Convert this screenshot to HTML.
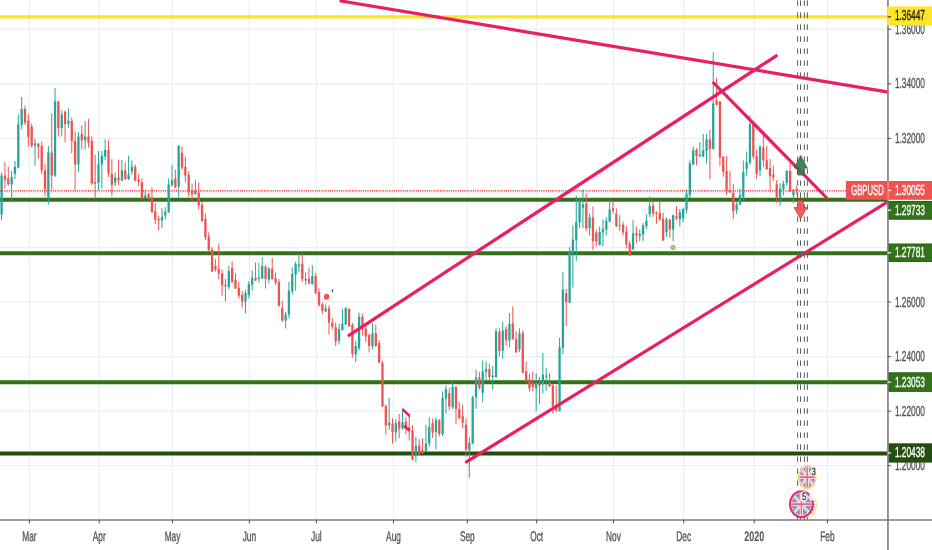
<!DOCTYPE html><html><head><meta charset="utf-8"><style>html,body{margin:0;padding:0;background:#fff;overflow:hidden}svg{display:block;will-change:transform}text{font-family:"Liberation Sans",sans-serif;text-rendering:geometricPrecision}</style></head><body>
<svg width="932" height="550" viewBox="0 0 932 550">
<rect width="932" height="550" fill="#fff"/>
<defs><clipPath id="f1"><ellipse cx="807.3" cy="477.2" rx="7.200000000000001" ry="10.2"/></clipPath><clipPath id="f2"><ellipse cx="807.5" cy="505" rx="7.2" ry="10.2"/></clipPath><clipPath id="f3"><ellipse cx="801.4" cy="504.2" rx="9.700000000000001" ry="11.1"/></clipPath></defs>
<line x1="29.4" y1="0" x2="29.4" y2="520.0" stroke="#e8eff5" stroke-width="1.2"/>
<line x1="99.2" y1="0" x2="99.2" y2="520.0" stroke="#e8eff5" stroke-width="1.2"/>
<line x1="172.5" y1="0" x2="172.5" y2="520.0" stroke="#e8eff5" stroke-width="1.2"/>
<line x1="249.4" y1="0" x2="249.4" y2="520.0" stroke="#e8eff5" stroke-width="1.2"/>
<line x1="316.4" y1="0" x2="316.4" y2="520.0" stroke="#e8eff5" stroke-width="1.2"/>
<line x1="393.5" y1="0" x2="393.5" y2="520.0" stroke="#e8eff5" stroke-width="1.2"/>
<line x1="467.3" y1="0" x2="467.3" y2="520.0" stroke="#e8eff5" stroke-width="1.2"/>
<line x1="536.7" y1="0" x2="536.7" y2="520.0" stroke="#e8eff5" stroke-width="1.2"/>
<line x1="613.5" y1="0" x2="613.5" y2="520.0" stroke="#e8eff5" stroke-width="1.2"/>
<line x1="683.7" y1="0" x2="683.7" y2="520.0" stroke="#e8eff5" stroke-width="1.2"/>
<line x1="754.2" y1="0" x2="754.2" y2="520.0" stroke="#e8eff5" stroke-width="1.2"/>
<line x1="827.4" y1="0" x2="827.4" y2="520.0" stroke="#e8eff5" stroke-width="1.2"/>
<line x1="0" y1="29.30" x2="888.0" y2="29.30" stroke="#e8eff5" stroke-width="1.2"/>
<line x1="0" y1="83.85" x2="888.0" y2="83.85" stroke="#e8eff5" stroke-width="1.2"/>
<line x1="0" y1="138.40" x2="888.0" y2="138.40" stroke="#e8eff5" stroke-width="1.2"/>
<line x1="0" y1="192.95" x2="888.0" y2="192.95" stroke="#e8eff5" stroke-width="1.2"/>
<line x1="0" y1="247.50" x2="888.0" y2="247.50" stroke="#e8eff5" stroke-width="1.2"/>
<line x1="0" y1="302.05" x2="888.0" y2="302.05" stroke="#e8eff5" stroke-width="1.2"/>
<line x1="0" y1="356.60" x2="888.0" y2="356.60" stroke="#e8eff5" stroke-width="1.2"/>
<line x1="0" y1="411.15" x2="888.0" y2="411.15" stroke="#e8eff5" stroke-width="1.2"/>
<line x1="0" y1="465.70" x2="888.0" y2="465.70" stroke="#e8eff5" stroke-width="1.2"/>
<line x1="0" y1="16.8" x2="888.0" y2="16.8" stroke="#fde529" stroke-width="3.2"/>
<line x1="0" y1="199.7" x2="888.0" y2="199.7" stroke="#32721a" stroke-width="4"/>
<line x1="0" y1="253.3" x2="888.0" y2="253.3" stroke="#32721a" stroke-width="4"/>
<line x1="0" y1="382.2" x2="888.0" y2="382.2" stroke="#32721a" stroke-width="4"/>
<line x1="0" y1="453.5" x2="888.0" y2="453.5" stroke="#244d10" stroke-width="4"/>
<rect x="1.10" y="172.5" width="1" height="48.00" fill="#26a69a"/>
<rect x="0.45" y="175.5" width="2.3" height="39.20" fill="#26a69a"/>
<rect x="4.44" y="162.2" width="1" height="26.30" fill="#ef5350"/>
<rect x="3.79" y="175.5" width="2.3" height="4.30" fill="#ef5350"/>
<rect x="7.78" y="166.5" width="1" height="19.10" fill="#ef5350"/>
<rect x="7.13" y="178.4" width="2.3" height="5.80" fill="#ef5350"/>
<rect x="11.12" y="171.0" width="1" height="31.40" fill="#26a69a"/>
<rect x="10.47" y="176.9" width="2.3" height="7.30" fill="#26a69a"/>
<rect x="14.46" y="161.0" width="1" height="18.10" fill="#26a69a"/>
<rect x="13.81" y="166.7" width="2.3" height="7.30" fill="#26a69a"/>
<rect x="17.81" y="114.4" width="1" height="54.10" fill="#26a69a"/>
<rect x="17.16" y="124.2" width="2.3" height="43.30" fill="#26a69a"/>
<rect x="21.15" y="97.0" width="1" height="32.30" fill="#26a69a"/>
<rect x="20.50" y="108.9" width="2.3" height="16.00" fill="#26a69a"/>
<rect x="24.49" y="105.7" width="1" height="19.20" fill="#ef5350"/>
<rect x="23.84" y="108.9" width="2.3" height="13.80" fill="#ef5350"/>
<rect x="27.83" y="114.4" width="1" height="32.30" fill="#ef5350"/>
<rect x="27.18" y="120.8" width="2.3" height="16.00" fill="#ef5350"/>
<rect x="31.17" y="123.5" width="1" height="24.00" fill="#ef5350"/>
<rect x="30.52" y="126.4" width="2.3" height="19.60" fill="#ef5350"/>
<rect x="34.51" y="138.7" width="1" height="27.30" fill="#26a69a"/>
<rect x="33.86" y="143.5" width="2.3" height="2.20" fill="#26a69a"/>
<rect x="37.85" y="143.1" width="1" height="15.60" fill="#ef5350"/>
<rect x="37.20" y="143.5" width="2.3" height="3.20" fill="#ef5350"/>
<rect x="41.19" y="141.6" width="1" height="32.40" fill="#ef5350"/>
<rect x="40.54" y="146.0" width="2.3" height="24.40" fill="#ef5350"/>
<rect x="44.53" y="163.5" width="1" height="33.00" fill="#ef5350"/>
<rect x="43.88" y="170.4" width="2.3" height="18.90" fill="#ef5350"/>
<rect x="47.87" y="146.0" width="1" height="58.50" fill="#26a69a"/>
<rect x="47.22" y="152.5" width="2.3" height="46.20" fill="#26a69a"/>
<rect x="51.22" y="113.3" width="1" height="77.40" fill="#ef5350"/>
<rect x="50.57" y="152.5" width="2.3" height="23.00" fill="#ef5350"/>
<rect x="54.56" y="88.0" width="1" height="89.00" fill="#26a69a"/>
<rect x="53.91" y="101.3" width="2.3" height="74.20" fill="#26a69a"/>
<rect x="57.90" y="100.9" width="1" height="35.60" fill="#ef5350"/>
<rect x="57.25" y="101.3" width="2.3" height="26.80" fill="#ef5350"/>
<rect x="61.24" y="110.4" width="1" height="26.10" fill="#26a69a"/>
<rect x="60.59" y="114.4" width="2.3" height="13.70" fill="#26a69a"/>
<rect x="64.58" y="110.4" width="1" height="32.00" fill="#ef5350"/>
<rect x="63.93" y="111.8" width="2.3" height="12.40" fill="#ef5350"/>
<rect x="67.92" y="108.2" width="1" height="19.90" fill="#26a69a"/>
<rect x="67.27" y="120.8" width="2.3" height="2.90" fill="#26a69a"/>
<rect x="71.26" y="117.6" width="1" height="35.70" fill="#ef5350"/>
<rect x="70.61" y="120.8" width="2.3" height="20.10" fill="#ef5350"/>
<rect x="74.60" y="131.5" width="1" height="60.00" fill="#ef5350"/>
<rect x="73.95" y="140.9" width="2.3" height="23.60" fill="#ef5350"/>
<rect x="77.94" y="132.2" width="1" height="39.60" fill="#26a69a"/>
<rect x="77.29" y="136.5" width="2.3" height="28.00" fill="#26a69a"/>
<rect x="81.28" y="125.2" width="1" height="24.40" fill="#ef5350"/>
<rect x="80.63" y="133.9" width="2.3" height="6.30" fill="#ef5350"/>
<rect x="84.62" y="121.0" width="1" height="28.60" fill="#26a69a"/>
<rect x="83.97" y="136.5" width="2.3" height="3.70" fill="#26a69a"/>
<rect x="87.97" y="119.1" width="1" height="28.40" fill="#ef5350"/>
<rect x="87.32" y="136.5" width="2.3" height="5.90" fill="#ef5350"/>
<rect x="91.31" y="136.5" width="1" height="48.50" fill="#ef5350"/>
<rect x="90.66" y="140.9" width="2.3" height="42.60" fill="#ef5350"/>
<rect x="94.65" y="154.7" width="1" height="44.00" fill="#ef5350"/>
<rect x="94.00" y="182.0" width="2.3" height="1.70" fill="#ef5350"/>
<rect x="97.99" y="151.1" width="1" height="38.90" fill="#26a69a"/>
<rect x="97.34" y="164.5" width="2.3" height="18.20" fill="#26a69a"/>
<rect x="101.33" y="151.1" width="1" height="37.40" fill="#26a69a"/>
<rect x="100.68" y="155.8" width="2.3" height="8.70" fill="#26a69a"/>
<rect x="104.67" y="139.5" width="1" height="20.70" fill="#26a69a"/>
<rect x="104.02" y="150.0" width="2.3" height="6.50" fill="#26a69a"/>
<rect x="108.01" y="140.2" width="1" height="36.80" fill="#ef5350"/>
<rect x="107.36" y="149.9" width="2.3" height="23.40" fill="#ef5350"/>
<rect x="111.35" y="159.3" width="1" height="37.20" fill="#ef5350"/>
<rect x="110.70" y="174.0" width="2.3" height="10.90" fill="#ef5350"/>
<rect x="114.69" y="172.5" width="1" height="13.90" fill="#26a69a"/>
<rect x="114.04" y="177.6" width="2.3" height="5.10" fill="#26a69a"/>
<rect x="118.03" y="159.5" width="1" height="25.40" fill="#ef5350"/>
<rect x="117.38" y="177.6" width="2.3" height="2.90" fill="#ef5350"/>
<rect x="121.38" y="160.0" width="1" height="21.30" fill="#26a69a"/>
<rect x="120.73" y="170.4" width="2.3" height="10.10" fill="#26a69a"/>
<rect x="124.72" y="162.2" width="1" height="17.60" fill="#ef5350"/>
<rect x="124.07" y="170.4" width="2.3" height="8.70" fill="#ef5350"/>
<rect x="128.06" y="155.7" width="1" height="24.30" fill="#26a69a"/>
<rect x="127.41" y="174.4" width="2.3" height="4.70" fill="#26a69a"/>
<rect x="131.40" y="160.3" width="1" height="14.50" fill="#26a69a"/>
<rect x="130.75" y="166.8" width="2.3" height="4.70" fill="#26a69a"/>
<rect x="134.74" y="164.7" width="1" height="16.80" fill="#ef5350"/>
<rect x="134.09" y="166.9" width="2.3" height="13.80" fill="#ef5350"/>
<rect x="138.08" y="174.2" width="1" height="11.60" fill="#ef5350"/>
<rect x="137.43" y="179.6" width="2.3" height="2.60" fill="#ef5350"/>
<rect x="141.42" y="178.5" width="1" height="21.10" fill="#ef5350"/>
<rect x="140.77" y="182.2" width="2.3" height="16.70" fill="#ef5350"/>
<rect x="144.76" y="189.5" width="1" height="9.40" fill="#26a69a"/>
<rect x="144.11" y="195.3" width="2.3" height="2.90" fill="#26a69a"/>
<rect x="148.10" y="193.1" width="1" height="6.50" fill="#ef5350"/>
<rect x="147.45" y="193.8" width="2.3" height="5.10" fill="#ef5350"/>
<rect x="151.44" y="187.3" width="1" height="25.40" fill="#ef5350"/>
<rect x="150.79" y="197.5" width="2.3" height="14.70" fill="#ef5350"/>
<rect x="154.79" y="202.7" width="1" height="21.30" fill="#ef5350"/>
<rect x="154.14" y="211.1" width="2.3" height="8.50" fill="#ef5350"/>
<rect x="158.13" y="215.8" width="1" height="14.70" fill="#ef5350"/>
<rect x="157.48" y="218.9" width="2.3" height="1.50" fill="#ef5350"/>
<rect x="161.47" y="208.2" width="1" height="20.20" fill="#26a69a"/>
<rect x="160.82" y="216.8" width="2.3" height="3.60" fill="#26a69a"/>
<rect x="164.81" y="207.2" width="1" height="12.40" fill="#26a69a"/>
<rect x="164.16" y="211.5" width="2.3" height="3.90" fill="#26a69a"/>
<rect x="168.15" y="178.5" width="1" height="34.50" fill="#26a69a"/>
<rect x="167.50" y="184.4" width="2.3" height="27.80" fill="#26a69a"/>
<rect x="171.49" y="164.7" width="1" height="21.80" fill="#26a69a"/>
<rect x="170.84" y="180.0" width="2.3" height="5.10" fill="#26a69a"/>
<rect x="174.83" y="169.8" width="1" height="18.20" fill="#ef5350"/>
<rect x="174.18" y="178.5" width="2.3" height="8.80" fill="#ef5350"/>
<rect x="178.17" y="145.1" width="1" height="52.40" fill="#26a69a"/>
<rect x="177.52" y="145.8" width="2.3" height="40.70" fill="#26a69a"/>
<rect x="181.51" y="146.5" width="1" height="23.30" fill="#ef5350"/>
<rect x="180.86" y="152.8" width="2.3" height="14.80" fill="#ef5350"/>
<rect x="184.86" y="156.7" width="1" height="25.50" fill="#ef5350"/>
<rect x="184.21" y="166.9" width="2.3" height="8.70" fill="#ef5350"/>
<rect x="188.20" y="171.3" width="1" height="25.40" fill="#ef5350"/>
<rect x="187.55" y="174.9" width="2.3" height="17.50" fill="#ef5350"/>
<rect x="191.54" y="183.6" width="1" height="18.20" fill="#ef5350"/>
<rect x="190.89" y="190.9" width="2.3" height="3.60" fill="#ef5350"/>
<rect x="194.88" y="180.0" width="1" height="15.30" fill="#26a69a"/>
<rect x="194.23" y="190.9" width="2.3" height="2.90" fill="#26a69a"/>
<rect x="198.22" y="182.2" width="1" height="27.40" fill="#ef5350"/>
<rect x="197.57" y="192.4" width="2.3" height="12.90" fill="#ef5350"/>
<rect x="201.56" y="201.1" width="1" height="20.70" fill="#ef5350"/>
<rect x="200.91" y="205.0" width="2.3" height="16.10" fill="#ef5350"/>
<rect x="204.90" y="213.6" width="1" height="26.40" fill="#ef5350"/>
<rect x="204.25" y="218.9" width="2.3" height="18.20" fill="#ef5350"/>
<rect x="208.24" y="232.3" width="1" height="18.70" fill="#ef5350"/>
<rect x="207.59" y="236.4" width="2.3" height="13.80" fill="#ef5350"/>
<rect x="211.58" y="247.3" width="1" height="24.70" fill="#ef5350"/>
<rect x="210.93" y="249.5" width="2.3" height="22.00" fill="#ef5350"/>
<rect x="214.92" y="259.2" width="1" height="12.30" fill="#ef5350"/>
<rect x="214.27" y="266.0" width="2.3" height="3.60" fill="#ef5350"/>
<rect x="218.27" y="243.6" width="1" height="35.90" fill="#ef5350"/>
<rect x="217.62" y="269.0" width="2.3" height="4.70" fill="#ef5350"/>
<rect x="221.61" y="269.5" width="1" height="26.20" fill="#ef5350"/>
<rect x="220.96" y="273.3" width="2.3" height="12.20" fill="#ef5350"/>
<rect x="224.95" y="279.0" width="1" height="22.50" fill="#ef5350"/>
<rect x="224.30" y="284.8" width="2.3" height="1.50" fill="#ef5350"/>
<rect x="228.29" y="265.9" width="1" height="23.30" fill="#26a69a"/>
<rect x="227.64" y="271.0" width="2.3" height="16.00" fill="#26a69a"/>
<rect x="231.63" y="261.3" width="1" height="22.10" fill="#ef5350"/>
<rect x="230.98" y="268.0" width="2.3" height="13.90" fill="#ef5350"/>
<rect x="234.97" y="273.3" width="1" height="15.70" fill="#ef5350"/>
<rect x="234.32" y="279.7" width="2.3" height="8.80" fill="#ef5350"/>
<rect x="238.31" y="281.9" width="1" height="16.70" fill="#ef5350"/>
<rect x="237.66" y="287.7" width="2.3" height="8.00" fill="#ef5350"/>
<rect x="241.65" y="290.6" width="1" height="16.80" fill="#ef5350"/>
<rect x="241.00" y="295.0" width="2.3" height="6.50" fill="#ef5350"/>
<rect x="244.99" y="289.9" width="1" height="23.30" fill="#26a69a"/>
<rect x="244.34" y="293.1" width="2.3" height="8.40" fill="#26a69a"/>
<rect x="248.33" y="281.2" width="1" height="17.40" fill="#26a69a"/>
<rect x="247.68" y="284.1" width="2.3" height="10.90" fill="#26a69a"/>
<rect x="251.68" y="270.3" width="1" height="20.30" fill="#26a69a"/>
<rect x="251.03" y="277.6" width="2.3" height="7.20" fill="#26a69a"/>
<rect x="255.02" y="262.4" width="1" height="18.60" fill="#ef5350"/>
<rect x="254.37" y="278.0" width="2.3" height="2.50" fill="#ef5350"/>
<rect x="258.36" y="263.0" width="1" height="19.60" fill="#26a69a"/>
<rect x="257.71" y="277.5" width="2.3" height="1.50" fill="#26a69a"/>
<rect x="261.70" y="257.3" width="1" height="21.70" fill="#26a69a"/>
<rect x="261.05" y="266.0" width="2.3" height="12.40" fill="#26a69a"/>
<rect x="265.04" y="265.2" width="1" height="23.30" fill="#ef5350"/>
<rect x="264.39" y="266.6" width="2.3" height="12.40" fill="#ef5350"/>
<rect x="268.38" y="266.6" width="1" height="16.80" fill="#26a69a"/>
<rect x="267.73" y="268.8" width="2.3" height="10.90" fill="#26a69a"/>
<rect x="271.72" y="257.9" width="1" height="21.60" fill="#ef5350"/>
<rect x="271.07" y="268.8" width="2.3" height="10.20" fill="#ef5350"/>
<rect x="275.06" y="272.5" width="1" height="12.30" fill="#ef5350"/>
<rect x="274.41" y="278.3" width="2.3" height="4.30" fill="#ef5350"/>
<rect x="278.40" y="279.0" width="1" height="27.60" fill="#ef5350"/>
<rect x="277.75" y="281.9" width="2.3" height="24.00" fill="#ef5350"/>
<rect x="281.74" y="300.8" width="1" height="21.10" fill="#ef5350"/>
<rect x="281.09" y="308.1" width="2.3" height="12.40" fill="#ef5350"/>
<rect x="285.09" y="311.7" width="1" height="16.80" fill="#26a69a"/>
<rect x="284.44" y="314.6" width="2.3" height="5.90" fill="#26a69a"/>
<rect x="288.43" y="281.9" width="1" height="36.40" fill="#26a69a"/>
<rect x="287.78" y="290.6" width="2.3" height="24.00" fill="#26a69a"/>
<rect x="291.77" y="267.4" width="1" height="26.90" fill="#26a69a"/>
<rect x="291.12" y="273.9" width="2.3" height="17.50" fill="#26a69a"/>
<rect x="295.11" y="261.5" width="1" height="29.10" fill="#26a69a"/>
<rect x="294.46" y="263.7" width="2.3" height="10.90" fill="#26a69a"/>
<rect x="298.45" y="254.0" width="1" height="18.50" fill="#26a69a"/>
<rect x="297.80" y="264.5" width="2.3" height="2.10" fill="#26a69a"/>
<rect x="301.79" y="254.0" width="1" height="27.90" fill="#ef5350"/>
<rect x="301.14" y="263.7" width="2.3" height="15.30" fill="#ef5350"/>
<rect x="305.13" y="272.5" width="1" height="12.30" fill="#26a69a"/>
<rect x="304.48" y="279.0" width="2.3" height="1.50" fill="#26a69a"/>
<rect x="308.47" y="268.1" width="1" height="15.90" fill="#ef5350"/>
<rect x="307.82" y="279.0" width="2.3" height="4.40" fill="#ef5350"/>
<rect x="311.81" y="265.2" width="1" height="19.60" fill="#26a69a"/>
<rect x="311.16" y="276.1" width="2.3" height="8.00" fill="#26a69a"/>
<rect x="315.15" y="273.2" width="1" height="21.10" fill="#ef5350"/>
<rect x="314.50" y="276.1" width="2.3" height="16.70" fill="#ef5350"/>
<rect x="318.50" y="288.5" width="1" height="18.10" fill="#ef5350"/>
<rect x="317.85" y="292.1" width="2.3" height="13.10" fill="#ef5350"/>
<rect x="321.84" y="302.3" width="1" height="12.00" fill="#ef5350"/>
<rect x="321.19" y="304.2" width="2.3" height="6.50" fill="#ef5350"/>
<rect x="325.18" y="304.5" width="1" height="7.50" fill="#26a69a"/>
<rect x="324.53" y="308.3" width="2.3" height="3.10" fill="#26a69a"/>
<rect x="328.52" y="305.3" width="1" height="29.10" fill="#ef5350"/>
<rect x="327.87" y="308.2" width="2.3" height="14.50" fill="#ef5350"/>
<rect x="331.86" y="318.4" width="1" height="10.90" fill="#ef5350"/>
<rect x="331.21" y="322.7" width="2.3" height="4.40" fill="#ef5350"/>
<rect x="335.20" y="322.7" width="1" height="23.30" fill="#ef5350"/>
<rect x="334.55" y="327.1" width="2.3" height="14.50" fill="#ef5350"/>
<rect x="338.54" y="323.5" width="1" height="21.00" fill="#26a69a"/>
<rect x="337.89" y="329.0" width="2.3" height="11.90" fill="#26a69a"/>
<rect x="341.88" y="308.9" width="1" height="21.80" fill="#26a69a"/>
<rect x="341.23" y="323.5" width="2.3" height="6.50" fill="#26a69a"/>
<rect x="345.22" y="307.2" width="1" height="17.80" fill="#26a69a"/>
<rect x="344.57" y="308.2" width="2.3" height="16.00" fill="#26a69a"/>
<rect x="348.56" y="308.2" width="1" height="18.80" fill="#ef5350"/>
<rect x="347.91" y="308.9" width="2.3" height="17.50" fill="#ef5350"/>
<rect x="351.91" y="323.2" width="1" height="34.40" fill="#ef5350"/>
<rect x="351.26" y="324.9" width="2.3" height="29.10" fill="#ef5350"/>
<rect x="355.25" y="340.9" width="1" height="21.10" fill="#26a69a"/>
<rect x="354.60" y="346.0" width="2.3" height="8.70" fill="#26a69a"/>
<rect x="358.59" y="312.5" width="1" height="37.90" fill="#26a69a"/>
<rect x="357.94" y="316.9" width="2.3" height="31.30" fill="#26a69a"/>
<rect x="361.93" y="314.0" width="1" height="21.80" fill="#ef5350"/>
<rect x="361.28" y="316.9" width="2.3" height="12.40" fill="#ef5350"/>
<rect x="365.27" y="325.6" width="1" height="16.00" fill="#ef5350"/>
<rect x="364.62" y="328.5" width="2.3" height="8.00" fill="#ef5350"/>
<rect x="368.61" y="333.6" width="1" height="18.90" fill="#ef5350"/>
<rect x="367.96" y="335.1" width="2.3" height="10.90" fill="#ef5350"/>
<rect x="371.95" y="322.7" width="1" height="26.90" fill="#26a69a"/>
<rect x="371.30" y="333.3" width="2.3" height="12.70" fill="#26a69a"/>
<rect x="375.29" y="324.6" width="1" height="22.40" fill="#ef5350"/>
<rect x="374.64" y="332.9" width="2.3" height="13.10" fill="#ef5350"/>
<rect x="378.63" y="340.2" width="1" height="22.80" fill="#ef5350"/>
<rect x="377.98" y="343.1" width="2.3" height="19.40" fill="#ef5350"/>
<rect x="381.97" y="360.6" width="1" height="46.40" fill="#ef5350"/>
<rect x="381.32" y="362.8" width="2.3" height="43.80" fill="#ef5350"/>
<rect x="385.32" y="404.5" width="1" height="30.00" fill="#ef5350"/>
<rect x="384.67" y="405.9" width="2.3" height="19.60" fill="#ef5350"/>
<rect x="388.66" y="397.9" width="1" height="32.00" fill="#26a69a"/>
<rect x="388.01" y="422.6" width="2.3" height="2.90" fill="#26a69a"/>
<rect x="392.00" y="418.3" width="1" height="25.30" fill="#ef5350"/>
<rect x="391.35" y="423.7" width="2.3" height="8.30" fill="#ef5350"/>
<rect x="395.34" y="419.3" width="1" height="22.20" fill="#26a69a"/>
<rect x="394.69" y="423.0" width="2.3" height="9.40" fill="#26a69a"/>
<rect x="398.68" y="413.9" width="1" height="24.60" fill="#ef5350"/>
<rect x="398.03" y="421.5" width="2.3" height="7.30" fill="#ef5350"/>
<rect x="402.02" y="409.0" width="1" height="21.00" fill="#26a69a"/>
<rect x="401.37" y="422.2" width="2.3" height="5.80" fill="#26a69a"/>
<rect x="405.36" y="417.5" width="1" height="16.70" fill="#ef5350"/>
<rect x="404.71" y="421.5" width="2.3" height="7.00" fill="#ef5350"/>
<rect x="408.70" y="416.0" width="1" height="24.70" fill="#ef5350"/>
<rect x="408.05" y="427.3" width="2.3" height="4.00" fill="#ef5350"/>
<rect x="412.04" y="425.0" width="1" height="35.40" fill="#ef5350"/>
<rect x="411.39" y="430.5" width="2.3" height="29.10" fill="#ef5350"/>
<rect x="415.38" y="437.1" width="1" height="25.40" fill="#26a69a"/>
<rect x="414.73" y="445.8" width="2.3" height="8.70" fill="#26a69a"/>
<rect x="418.73" y="439.3" width="1" height="16.20" fill="#ef5350"/>
<rect x="418.08" y="445.8" width="2.3" height="8.70" fill="#ef5350"/>
<rect x="422.07" y="438.5" width="1" height="15.30" fill="#ef5350"/>
<rect x="421.42" y="450.2" width="2.3" height="2.90" fill="#ef5350"/>
<rect x="425.41" y="425.0" width="1" height="27.40" fill="#26a69a"/>
<rect x="424.76" y="443.6" width="2.3" height="8.00" fill="#26a69a"/>
<rect x="428.75" y="417.2" width="1" height="29.30" fill="#26a69a"/>
<rect x="428.10" y="426.9" width="2.3" height="16.70" fill="#26a69a"/>
<rect x="432.09" y="418.6" width="1" height="19.20" fill="#ef5350"/>
<rect x="431.44" y="423.3" width="2.3" height="9.40" fill="#ef5350"/>
<rect x="435.43" y="417.5" width="1" height="32.00" fill="#26a69a"/>
<rect x="434.78" y="420.0" width="2.3" height="12.00" fill="#26a69a"/>
<rect x="438.77" y="419.0" width="1" height="17.40" fill="#ef5350"/>
<rect x="438.12" y="420.4" width="2.3" height="13.80" fill="#ef5350"/>
<rect x="442.11" y="391.4" width="1" height="45.00" fill="#26a69a"/>
<rect x="441.46" y="397.9" width="2.3" height="36.30" fill="#26a69a"/>
<rect x="445.45" y="385.5" width="1" height="28.00" fill="#26a69a"/>
<rect x="444.80" y="389.2" width="2.3" height="9.40" fill="#26a69a"/>
<rect x="448.79" y="387.7" width="1" height="22.50" fill="#ef5350"/>
<rect x="448.14" y="393.1" width="2.3" height="13.50" fill="#ef5350"/>
<rect x="452.14" y="381.2" width="1" height="27.80" fill="#26a69a"/>
<rect x="451.49" y="386.7" width="2.3" height="20.70" fill="#26a69a"/>
<rect x="455.48" y="386.3" width="1" height="37.80" fill="#ef5350"/>
<rect x="454.83" y="386.7" width="2.3" height="22.10" fill="#ef5350"/>
<rect x="458.82" y="402.3" width="1" height="16.70" fill="#ef5350"/>
<rect x="458.17" y="409.0" width="2.3" height="9.30" fill="#ef5350"/>
<rect x="462.16" y="404.5" width="1" height="24.00" fill="#ef5350"/>
<rect x="461.51" y="416.1" width="2.3" height="6.50" fill="#ef5350"/>
<rect x="465.50" y="418.3" width="1" height="38.40" fill="#ef5350"/>
<rect x="464.85" y="424.8" width="2.3" height="24.70" fill="#ef5350"/>
<rect x="468.84" y="437.1" width="1" height="40.70" fill="#26a69a"/>
<rect x="468.19" y="442.9" width="2.3" height="7.30" fill="#26a69a"/>
<rect x="472.18" y="395.7" width="1" height="48.30" fill="#26a69a"/>
<rect x="471.53" y="397.2" width="2.3" height="46.40" fill="#26a69a"/>
<rect x="475.52" y="369.5" width="1" height="39.30" fill="#26a69a"/>
<rect x="474.87" y="377.5" width="2.3" height="19.70" fill="#26a69a"/>
<rect x="478.86" y="371.7" width="1" height="18.20" fill="#ef5350"/>
<rect x="478.21" y="377.5" width="2.3" height="10.20" fill="#ef5350"/>
<rect x="482.20" y="360.5" width="1" height="41.80" fill="#26a69a"/>
<rect x="481.55" y="371.5" width="2.3" height="21.30" fill="#26a69a"/>
<rect x="485.55" y="361.6" width="1" height="19.40" fill="#26a69a"/>
<rect x="484.90" y="369.0" width="2.3" height="2.80" fill="#26a69a"/>
<rect x="488.89" y="363.8" width="1" height="16.70" fill="#ef5350"/>
<rect x="488.24" y="369.0" width="2.3" height="8.00" fill="#ef5350"/>
<rect x="492.23" y="366.0" width="1" height="23.50" fill="#26a69a"/>
<rect x="491.58" y="375.5" width="2.3" height="1.50" fill="#26a69a"/>
<rect x="495.57" y="328.3" width="1" height="49.70" fill="#26a69a"/>
<rect x="494.92" y="331.2" width="2.3" height="45.80" fill="#26a69a"/>
<rect x="498.91" y="328.3" width="1" height="28.30" fill="#ef5350"/>
<rect x="498.26" y="331.9" width="2.3" height="18.90" fill="#ef5350"/>
<rect x="502.25" y="321.7" width="1" height="37.10" fill="#26a69a"/>
<rect x="501.60" y="330.5" width="2.3" height="20.30" fill="#26a69a"/>
<rect x="505.59" y="326.1" width="1" height="19.60" fill="#ef5350"/>
<rect x="504.94" y="329.0" width="2.3" height="10.90" fill="#ef5350"/>
<rect x="508.93" y="313.0" width="1" height="34.20" fill="#26a69a"/>
<rect x="508.28" y="323.9" width="2.3" height="16.70" fill="#26a69a"/>
<rect x="512.27" y="306.5" width="1" height="33.50" fill="#ef5350"/>
<rect x="511.62" y="323.2" width="2.3" height="16.00" fill="#ef5350"/>
<rect x="515.61" y="331.2" width="1" height="21.80" fill="#ef5350"/>
<rect x="514.96" y="339.2" width="2.3" height="13.10" fill="#ef5350"/>
<rect x="518.96" y="328.3" width="1" height="24.00" fill="#26a69a"/>
<rect x="518.31" y="333.4" width="2.3" height="16.00" fill="#26a69a"/>
<rect x="522.30" y="330.5" width="1" height="42.90" fill="#ef5350"/>
<rect x="521.65" y="333.4" width="2.3" height="39.40" fill="#ef5350"/>
<rect x="525.64" y="361.7" width="1" height="20.80" fill="#ef5350"/>
<rect x="524.99" y="371.2" width="2.3" height="9.80" fill="#ef5350"/>
<rect x="528.98" y="373.7" width="1" height="17.80" fill="#ef5350"/>
<rect x="528.33" y="379.2" width="2.3" height="9.30" fill="#ef5350"/>
<rect x="532.32" y="371.5" width="1" height="20.00" fill="#ef5350"/>
<rect x="531.67" y="382.7" width="2.3" height="4.40" fill="#ef5350"/>
<rect x="535.66" y="373.3" width="1" height="37.80" fill="#26a69a"/>
<rect x="535.01" y="382.7" width="2.3" height="5.80" fill="#26a69a"/>
<rect x="539.00" y="376.9" width="1" height="26.90" fill="#ef5350"/>
<rect x="538.35" y="382.7" width="2.3" height="2.90" fill="#ef5350"/>
<rect x="542.34" y="353.0" width="1" height="40.60" fill="#26a69a"/>
<rect x="541.69" y="374.7" width="2.3" height="9.50" fill="#26a69a"/>
<rect x="545.68" y="368.2" width="1" height="22.50" fill="#26a69a"/>
<rect x="545.03" y="375.5" width="2.3" height="1.40" fill="#26a69a"/>
<rect x="549.02" y="373.3" width="1" height="13.70" fill="#ef5350"/>
<rect x="548.37" y="382.7" width="2.3" height="3.70" fill="#ef5350"/>
<rect x="552.37" y="384.2" width="1" height="29.10" fill="#ef5350"/>
<rect x="551.72" y="385.6" width="2.3" height="20.40" fill="#ef5350"/>
<rect x="555.71" y="385.6" width="1" height="26.90" fill="#ef5350"/>
<rect x="555.06" y="405.3" width="2.3" height="5.10" fill="#ef5350"/>
<rect x="559.05" y="337.7" width="1" height="73.80" fill="#26a69a"/>
<rect x="558.40" y="347.2" width="2.3" height="63.90" fill="#26a69a"/>
<rect x="562.39" y="272.1" width="1" height="82.30" fill="#26a69a"/>
<rect x="561.74" y="289.5" width="2.3" height="58.40" fill="#26a69a"/>
<rect x="565.73" y="288.8" width="1" height="37.30" fill="#ef5350"/>
<rect x="565.08" y="293.2" width="2.3" height="8.70" fill="#ef5350"/>
<rect x="569.07" y="247.2" width="1" height="56.10" fill="#26a69a"/>
<rect x="568.42" y="251.0" width="2.3" height="51.60" fill="#26a69a"/>
<rect x="572.41" y="225.3" width="1" height="62.10" fill="#26a69a"/>
<rect x="571.76" y="239.6" width="2.3" height="14.30" fill="#26a69a"/>
<rect x="575.75" y="195.5" width="1" height="65.70" fill="#26a69a"/>
<rect x="575.10" y="222.4" width="2.3" height="17.90" fill="#26a69a"/>
<rect x="579.09" y="198.4" width="1" height="29.80" fill="#26a69a"/>
<rect x="578.44" y="201.3" width="2.3" height="21.10" fill="#26a69a"/>
<rect x="582.43" y="189.6" width="1" height="38.60" fill="#26a69a"/>
<rect x="581.78" y="204.2" width="2.3" height="3.60" fill="#26a69a"/>
<rect x="585.78" y="193.3" width="1" height="37.80" fill="#ef5350"/>
<rect x="585.13" y="203.5" width="2.3" height="24.70" fill="#ef5350"/>
<rect x="589.12" y="213.6" width="1" height="21.90" fill="#26a69a"/>
<rect x="588.47" y="217.3" width="2.3" height="10.90" fill="#26a69a"/>
<rect x="592.46" y="206.4" width="1" height="43.90" fill="#ef5350"/>
<rect x="591.81" y="217.3" width="2.3" height="24.00" fill="#ef5350"/>
<rect x="595.80" y="229.6" width="1" height="17.00" fill="#ef5350"/>
<rect x="595.15" y="232.5" width="2.3" height="8.90" fill="#ef5350"/>
<rect x="599.14" y="226.7" width="1" height="18.90" fill="#26a69a"/>
<rect x="598.49" y="231.8" width="2.3" height="13.20" fill="#26a69a"/>
<rect x="602.48" y="219.5" width="1" height="27.00" fill="#26a69a"/>
<rect x="601.83" y="228.9" width="2.3" height="3.60" fill="#26a69a"/>
<rect x="605.82" y="217.3" width="1" height="18.20" fill="#26a69a"/>
<rect x="605.17" y="220.9" width="2.3" height="8.70" fill="#26a69a"/>
<rect x="609.16" y="199.8" width="1" height="22.60" fill="#26a69a"/>
<rect x="608.51" y="209.3" width="2.3" height="12.30" fill="#26a69a"/>
<rect x="612.50" y="200.5" width="1" height="13.10" fill="#ef5350"/>
<rect x="611.85" y="208.1" width="2.3" height="2.60" fill="#ef5350"/>
<rect x="615.84" y="208.5" width="1" height="19.00" fill="#ef5350"/>
<rect x="615.19" y="213.6" width="2.3" height="12.40" fill="#ef5350"/>
<rect x="619.19" y="215.1" width="1" height="16.00" fill="#26a69a"/>
<rect x="618.54" y="225.3" width="2.3" height="1.00" fill="#26a69a"/>
<rect x="622.53" y="221.6" width="1" height="13.90" fill="#ef5350"/>
<rect x="621.88" y="224.5" width="2.3" height="8.00" fill="#ef5350"/>
<rect x="625.87" y="226.0" width="1" height="22.50" fill="#ef5350"/>
<rect x="625.22" y="231.8" width="2.3" height="12.50" fill="#ef5350"/>
<rect x="629.21" y="240.9" width="1" height="15.10" fill="#ef5350"/>
<rect x="628.56" y="243.7" width="2.3" height="11.70" fill="#ef5350"/>
<rect x="632.55" y="220.2" width="1" height="29.80" fill="#26a69a"/>
<rect x="631.90" y="233.3" width="2.3" height="16.20" fill="#26a69a"/>
<rect x="635.89" y="226.7" width="1" height="16.30" fill="#ef5350"/>
<rect x="635.24" y="233.3" width="2.3" height="2.20" fill="#ef5350"/>
<rect x="639.23" y="229.6" width="1" height="11.70" fill="#26a69a"/>
<rect x="638.58" y="234.0" width="2.3" height="2.20" fill="#26a69a"/>
<rect x="642.57" y="223.1" width="1" height="18.20" fill="#26a69a"/>
<rect x="641.92" y="225.3" width="2.3" height="9.40" fill="#26a69a"/>
<rect x="645.91" y="214.4" width="1" height="14.50" fill="#26a69a"/>
<rect x="645.26" y="220.9" width="2.3" height="5.10" fill="#26a69a"/>
<rect x="649.25" y="196.2" width="1" height="21.10" fill="#26a69a"/>
<rect x="648.60" y="205.6" width="2.3" height="8.80" fill="#26a69a"/>
<rect x="652.60" y="200.5" width="1" height="16.50" fill="#ef5350"/>
<rect x="651.95" y="205.6" width="2.3" height="8.00" fill="#ef5350"/>
<rect x="655.94" y="211.5" width="1" height="12.30" fill="#ef5350"/>
<rect x="655.29" y="212.2" width="2.3" height="1.40" fill="#ef5350"/>
<rect x="659.28" y="200.5" width="1" height="20.40" fill="#ef5350"/>
<rect x="658.63" y="212.9" width="2.3" height="6.60" fill="#ef5350"/>
<rect x="662.62" y="212.7" width="1" height="28.30" fill="#ef5350"/>
<rect x="661.97" y="218.7" width="2.3" height="21.80" fill="#ef5350"/>
<rect x="665.96" y="217.0" width="1" height="19.90" fill="#26a69a"/>
<rect x="665.31" y="219.5" width="2.3" height="13.00" fill="#26a69a"/>
<rect x="669.30" y="219.3" width="1" height="18.30" fill="#ef5350"/>
<rect x="668.65" y="219.5" width="2.3" height="10.10" fill="#ef5350"/>
<rect x="672.64" y="214.5" width="1" height="26.80" fill="#26a69a"/>
<rect x="671.99" y="215.1" width="2.3" height="14.50" fill="#26a69a"/>
<rect x="675.98" y="206.0" width="1" height="14.50" fill="#ef5350"/>
<rect x="675.33" y="216.2" width="2.3" height="2.20" fill="#ef5350"/>
<rect x="679.32" y="208.9" width="1" height="17.50" fill="#26a69a"/>
<rect x="678.67" y="212.5" width="2.3" height="6.60" fill="#26a69a"/>
<rect x="682.66" y="207.5" width="1" height="14.50" fill="#26a69a"/>
<rect x="682.01" y="208.9" width="2.3" height="9.50" fill="#26a69a"/>
<rect x="686.01" y="189.3" width="1" height="24.00" fill="#26a69a"/>
<rect x="685.36" y="193.6" width="2.3" height="16.00" fill="#26a69a"/>
<rect x="689.35" y="160.3" width="1" height="37.70" fill="#26a69a"/>
<rect x="688.70" y="163.2" width="2.3" height="31.90" fill="#26a69a"/>
<rect x="692.69" y="146.6" width="1" height="18.40" fill="#26a69a"/>
<rect x="692.04" y="150.3" width="2.3" height="14.30" fill="#26a69a"/>
<rect x="696.03" y="148.1" width="1" height="17.30" fill="#ef5350"/>
<rect x="695.38" y="149.5" width="2.3" height="6.50" fill="#ef5350"/>
<rect x="699.37" y="142.3" width="1" height="14.70" fill="#26a69a"/>
<rect x="698.72" y="154.6" width="2.3" height="1.70" fill="#26a69a"/>
<rect x="702.71" y="134.0" width="1" height="23.30" fill="#26a69a"/>
<rect x="702.06" y="150.3" width="2.3" height="6.30" fill="#26a69a"/>
<rect x="706.05" y="134.0" width="1" height="29.60" fill="#26a69a"/>
<rect x="705.40" y="139.4" width="2.3" height="11.60" fill="#26a69a"/>
<rect x="709.39" y="129.9" width="1" height="49.20" fill="#ef5350"/>
<rect x="708.74" y="139.4" width="2.3" height="9.40" fill="#ef5350"/>
<rect x="712.73" y="52.3" width="1" height="97.20" fill="#26a69a"/>
<rect x="712.08" y="103.5" width="2.3" height="45.30" fill="#26a69a"/>
<rect x="716.07" y="77.7" width="1" height="27.80" fill="#ef5350"/>
<rect x="715.42" y="100.5" width="2.3" height="4.40" fill="#ef5350"/>
<rect x="719.42" y="101.0" width="1" height="65.20" fill="#ef5350"/>
<rect x="718.77" y="101.3" width="2.3" height="56.30" fill="#ef5350"/>
<rect x="722.76" y="156.1" width="1" height="20.80" fill="#ef5350"/>
<rect x="722.11" y="156.6" width="2.3" height="15.20" fill="#ef5350"/>
<rect x="726.10" y="155.8" width="1" height="39.30" fill="#ef5350"/>
<rect x="725.45" y="171.1" width="2.3" height="20.40" fill="#ef5350"/>
<rect x="729.44" y="171.1" width="1" height="21.90" fill="#ef5350"/>
<rect x="728.79" y="190.7" width="2.3" height="1.50" fill="#ef5350"/>
<rect x="732.78" y="184.2" width="1" height="34.90" fill="#ef5350"/>
<rect x="732.13" y="192.9" width="2.3" height="18.20" fill="#ef5350"/>
<rect x="736.12" y="200.9" width="1" height="13.10" fill="#26a69a"/>
<rect x="735.47" y="204.5" width="2.3" height="5.90" fill="#26a69a"/>
<rect x="739.46" y="188.5" width="1" height="16.80" fill="#26a69a"/>
<rect x="738.81" y="195.1" width="2.3" height="9.40" fill="#26a69a"/>
<rect x="742.80" y="160.4" width="1" height="39.80" fill="#26a69a"/>
<rect x="742.15" y="171.8" width="2.3" height="25.50" fill="#26a69a"/>
<rect x="746.14" y="151.6" width="1" height="24.60" fill="#26a69a"/>
<rect x="745.49" y="162.2" width="2.3" height="6.80" fill="#26a69a"/>
<rect x="749.48" y="115.4" width="1" height="49.40" fill="#26a69a"/>
<rect x="748.83" y="124.1" width="2.3" height="38.70" fill="#26a69a"/>
<rect x="752.83" y="124.1" width="1" height="34.90" fill="#ef5350"/>
<rect x="752.18" y="124.3" width="2.3" height="32.30" fill="#ef5350"/>
<rect x="756.17" y="149.5" width="1" height="29.60" fill="#ef5350"/>
<rect x="755.52" y="156.0" width="2.3" height="18.00" fill="#ef5350"/>
<rect x="759.51" y="145.2" width="1" height="31.00" fill="#26a69a"/>
<rect x="758.86" y="146.6" width="2.3" height="24.00" fill="#26a69a"/>
<rect x="762.85" y="135.0" width="1" height="32.20" fill="#ef5350"/>
<rect x="762.20" y="147.4" width="2.3" height="12.80" fill="#ef5350"/>
<rect x="766.19" y="145.9" width="1" height="24.10" fill="#ef5350"/>
<rect x="765.54" y="160.2" width="2.3" height="9.00" fill="#ef5350"/>
<rect x="769.53" y="159.0" width="1" height="31.60" fill="#ef5350"/>
<rect x="768.88" y="167.9" width="2.3" height="8.40" fill="#ef5350"/>
<rect x="772.87" y="165.5" width="1" height="15.60" fill="#ef5350"/>
<rect x="772.22" y="174.6" width="2.3" height="2.50" fill="#ef5350"/>
<rect x="776.21" y="180.0" width="1" height="22.90" fill="#ef5350"/>
<rect x="775.56" y="184.4" width="2.3" height="13.00" fill="#ef5350"/>
<rect x="779.55" y="183.3" width="1" height="22.20" fill="#26a69a"/>
<rect x="778.90" y="188.7" width="2.3" height="9.80" fill="#26a69a"/>
<rect x="782.89" y="181.0" width="1" height="14.60" fill="#26a69a"/>
<rect x="782.24" y="183.6" width="2.3" height="5.90" fill="#26a69a"/>
<rect x="786.24" y="170.2" width="1" height="15.60" fill="#26a69a"/>
<rect x="785.59" y="170.9" width="2.3" height="12.00" fill="#26a69a"/>
<rect x="789.58" y="160.7" width="1" height="31.10" fill="#ef5350"/>
<rect x="788.93" y="170.9" width="2.3" height="20.70" fill="#ef5350"/>
<rect x="792.92" y="188.7" width="1" height="14.60" fill="#26a69a"/>
<rect x="792.27" y="192.0" width="2.3" height="3.30" fill="#26a69a"/>
<rect x="796.26" y="186.0" width="1" height="8.70" fill="#ef5350"/>
<rect x="795.61" y="188.9" width="2.3" height="2.20" fill="#ef5350"/>
<line x1="0" y1="190.9" x2="846" y2="190.9" stroke="#ef5350" stroke-width="1.6" stroke-dasharray="1.1 1.1"/>
<line x1="341" y1="1" x2="887" y2="91.8" stroke="#e91e63" stroke-width="3.2" stroke-linecap="round"/>
<line x1="349" y1="335.3" x2="776.2" y2="55.8" stroke="#e91e63" stroke-width="3.2" stroke-linecap="round"/>
<line x1="466.5" y1="461.8" x2="886.4" y2="202.7" stroke="#e91e63" stroke-width="3.2" stroke-linecap="round"/>
<line x1="713.7" y1="83" x2="826.3" y2="197.5" stroke="#e91e63" stroke-width="3.2" stroke-linecap="round"/>
<polygon points="402.5,407.5 410,414.5 410,418 402.5,411" fill="#e91e63"/>
<line x1="404" y1="426" x2="409.5" y2="430.5" stroke="#e91e63" stroke-width="2.4"/>
<ellipse cx="326.6" cy="296.8" rx="2.7" ry="3" fill="#ef5350"/>
<path d="M332.4 289 L333.3 290.7 L332.4 292.4 L331.5 290.7Z" fill="#1e4d20"/>
<circle cx="673" cy="247.4" r="2.2" fill="#a5d07a" stroke="#6f9f45" stroke-width="0.7"/>
<line x1="797.6" y1="0.4" x2="797.6" y2="520.0" stroke="#5d6066" stroke-width="1" stroke-dasharray="5.5 6.5"/>
<line x1="800.5" y1="0.4" x2="800.5" y2="520.0" stroke="#5d6066" stroke-width="1" stroke-dasharray="5.5 6.5"/>
<line x1="804.4" y1="0.4" x2="804.4" y2="520.0" stroke="#5d6066" stroke-width="1" stroke-dasharray="5.5 6.5"/>
<line x1="807.4" y1="0.4" x2="807.4" y2="520.0" stroke="#5d6066" stroke-width="1" stroke-dasharray="5.5 6.5"/>
<polygon points="800.7,155.5 807.2,168 803.7,168 803.7,175 797.7,175 797.7,168 794.2,168" fill="#357a52" stroke="#2a5e3f" stroke-width="0.8" opacity="0.93"/>
<polygon points="800.5,219 807.0,207.5 803.5,207.5 803.5,200.5 797.5,200.5 797.5,207.5 794.0,207.5" fill="#ef5350" stroke="#c23b38" stroke-width="0.8" opacity="0.93"/>
<ellipse cx="807.3" cy="477.2" rx="8.8" ry="12" fill="#fff" stroke="#f0cf45" stroke-width="1.1" stroke-dasharray="2 1"/>
<g clip-path="url(#f1)" opacity="0.85">
<rect x="798.5" y="465.2" width="17.6" height="24" fill="#6f82b8"/>
<line x1="798.5" y1="465.2" x2="816.0999999999999" y2="489.2" stroke="#fff" stroke-width="2.6"/>
<line x1="816.0999999999999" y1="465.2" x2="798.5" y2="489.2" stroke="#fff" stroke-width="2.6"/>
<line x1="798.5" y1="465.2" x2="816.0999999999999" y2="489.2" stroke="#e8557a" stroke-width="0.8"/>
<line x1="816.0999999999999" y1="465.2" x2="798.5" y2="489.2" stroke="#e8557a" stroke-width="0.8"/>
<line x1="798.5" y1="477.2" x2="816.0999999999999" y2="477.2" stroke="#fff" stroke-width="3.6"/>
<line x1="807.3" y1="465.2" x2="807.3" y2="489.2" stroke="#fff" stroke-width="3.2"/>
<line x1="798.5" y1="477.2" x2="816.0999999999999" y2="477.2" stroke="#ec4a68" stroke-width="2"/>
<line x1="807.3" y1="465.2" x2="807.3" y2="489.2" stroke="#ec4a68" stroke-width="1.6"/>
</g>
<ellipse cx="807.3" cy="477.2" rx="7.6" ry="10.8" fill="none" stroke="#ef6a7a" stroke-width="0.8" opacity="0.8"/>
<ellipse cx="807.5" cy="505" rx="8.8" ry="12" fill="#fff" stroke="#f0cf45" stroke-width="1.1" stroke-dasharray="2 1"/>
<g clip-path="url(#f2)" opacity="0.8"><rect x="799" y="494.8" width="18" height="1.5" fill="#e8334f"/><rect x="799" y="497.7" width="18" height="1.5" fill="#e8334f"/><rect x="799" y="500.6" width="18" height="1.5" fill="#e8334f"/><rect x="799" y="503.5" width="18" height="1.5" fill="#e8334f"/><rect x="799" y="506.4" width="18" height="1.5" fill="#e8334f"/><rect x="799" y="509.3" width="18" height="1.5" fill="#e8334f"/><rect x="799" y="512.2" width="18" height="1.5" fill="#e8334f"/><rect x="799" y="515.1" width="18" height="1.5" fill="#e8334f"/><rect x="799" y="494" width="8" height="8" fill="#5a6fb0"/></g>
<ellipse cx="801.4" cy="504.2" rx="11.3" ry="12.9" fill="#fff" stroke="#e8336a" stroke-width="2.3"/>
<g clip-path="url(#f3)" opacity="0.85">
<rect x="790.1" y="491.3" width="22.6" height="25.8" fill="#6f82b8"/>
<line x1="790.1" y1="491.3" x2="812.6999999999999" y2="517.1" stroke="#fff" stroke-width="2.6"/>
<line x1="812.6999999999999" y1="491.3" x2="790.1" y2="517.1" stroke="#fff" stroke-width="2.6"/>
<line x1="790.1" y1="491.3" x2="812.6999999999999" y2="517.1" stroke="#e8557a" stroke-width="0.8"/>
<line x1="812.6999999999999" y1="491.3" x2="790.1" y2="517.1" stroke="#e8557a" stroke-width="0.8"/>
<line x1="790.1" y1="504.2" x2="812.6999999999999" y2="504.2" stroke="#fff" stroke-width="3.6"/>
<line x1="801.4" y1="491.3" x2="801.4" y2="517.1" stroke="#fff" stroke-width="3.2"/>
<line x1="790.1" y1="504.2" x2="812.6999999999999" y2="504.2" stroke="#ec4a68" stroke-width="2"/>
<line x1="801.4" y1="491.3" x2="801.4" y2="517.1" stroke="#ec4a68" stroke-width="1.6"/>
</g>
<rect x="811.6" y="466.5" width="5.5" height="9.5" rx="1.5" fill="#fff"/>
<rect x="800.8" y="491.5" width="5.6" height="9.8" rx="1.5" fill="#fff"/>
<rect x="809.5" y="492" width="5" height="8.5" rx="1.5" fill="#fff" opacity="0.85"/>
<text x="0" y="0" font-size="10.5" fill="#333" stroke="#333" stroke-width="0.35" text-anchor="middle" transform="translate(813.7 474.6) scale(0.7 1)">3</text>
<text x="0" y="0" font-size="10.5" fill="#333" stroke="#333" stroke-width="0.35" text-anchor="middle" transform="translate(804.1 500.1) scale(0.7 1)">5</text>
<rect x="0" y="519.2" width="932" height="1.6" fill="#80838b"/>
<rect x="887.1" y="0" width="1.7" height="550" fill="#80838b"/>
<rect x="28.9" y="520.0" width="1" height="3.5" fill="#50545c"/>
<text x="0" y="0" font-size="14" fill="#50545c" stroke="#50545c" stroke-width="0.35" text-anchor="middle" transform="translate(29.4 540.9) scale(0.594 1)">Mar</text>
<rect x="98.7" y="520.0" width="1" height="3.5" fill="#50545c"/>
<text x="0" y="0" font-size="14" fill="#50545c" stroke="#50545c" stroke-width="0.35" text-anchor="middle" transform="translate(99.2 540.9) scale(0.594 1)">Apr</text>
<rect x="172.0" y="520.0" width="1" height="3.5" fill="#50545c"/>
<text x="0" y="0" font-size="14" fill="#50545c" stroke="#50545c" stroke-width="0.35" text-anchor="middle" transform="translate(172.5 540.9) scale(0.594 1)">May</text>
<rect x="248.9" y="520.0" width="1" height="3.5" fill="#50545c"/>
<text x="0" y="0" font-size="14" fill="#50545c" stroke="#50545c" stroke-width="0.35" text-anchor="middle" transform="translate(249.4 540.9) scale(0.594 1)">Jun</text>
<rect x="315.9" y="520.0" width="1" height="3.5" fill="#50545c"/>
<text x="0" y="0" font-size="14" fill="#50545c" stroke="#50545c" stroke-width="0.35" text-anchor="middle" transform="translate(316.4 540.9) scale(0.594 1)">Jul</text>
<rect x="393.0" y="520.0" width="1" height="3.5" fill="#50545c"/>
<text x="0" y="0" font-size="14" fill="#50545c" stroke="#50545c" stroke-width="0.35" text-anchor="middle" transform="translate(393.5 540.9) scale(0.594 1)">Aug</text>
<rect x="466.8" y="520.0" width="1" height="3.5" fill="#50545c"/>
<text x="0" y="0" font-size="14" fill="#50545c" stroke="#50545c" stroke-width="0.35" text-anchor="middle" transform="translate(467.3 540.9) scale(0.594 1)">Sep</text>
<rect x="536.2" y="520.0" width="1" height="3.5" fill="#50545c"/>
<text x="0" y="0" font-size="14" fill="#50545c" stroke="#50545c" stroke-width="0.35" text-anchor="middle" transform="translate(536.7 540.9) scale(0.594 1)">Oct</text>
<rect x="613.0" y="520.0" width="1" height="3.5" fill="#50545c"/>
<text x="0" y="0" font-size="14" fill="#50545c" stroke="#50545c" stroke-width="0.35" text-anchor="middle" transform="translate(613.5 540.9) scale(0.594 1)">Nov</text>
<rect x="683.2" y="520.0" width="1" height="3.5" fill="#50545c"/>
<text x="0" y="0" font-size="14" fill="#50545c" stroke="#50545c" stroke-width="0.35" text-anchor="middle" transform="translate(683.7 540.9) scale(0.594 1)">Dec</text>
<rect x="753.7" y="520.0" width="1" height="3.5" fill="#50545c"/>
<text x="0" y="0" font-size="14" font-weight="bold" fill="#50545c" text-anchor="middle" transform="translate(754.2 540.9) scale(0.64 1)">2020</text>
<rect x="826.9" y="520.0" width="1" height="3.5" fill="#50545c"/>
<text x="0" y="0" font-size="14" fill="#50545c" stroke="#50545c" stroke-width="0.35" text-anchor="middle" transform="translate(827.4 540.9) scale(0.594 1)">Feb</text>
<rect x="888.0" y="28.80" width="3.2" height="1" fill="#50545c"/>
<text x="0" y="0" font-size="14.5" fill="#50545c" stroke="#50545c" stroke-width="0.35" text-anchor="start" transform="translate(894.9 33.9) scale(0.574 1)">1.36000</text>
<rect x="888.0" y="83.35" width="3.2" height="1" fill="#50545c"/>
<text x="0" y="0" font-size="14.5" fill="#50545c" stroke="#50545c" stroke-width="0.35" text-anchor="start" transform="translate(894.9 88.44999999999999) scale(0.574 1)">1.34000</text>
<rect x="888.0" y="137.90" width="3.2" height="1" fill="#50545c"/>
<text x="0" y="0" font-size="14.5" fill="#50545c" stroke="#50545c" stroke-width="0.35" text-anchor="start" transform="translate(894.9 143.0) scale(0.574 1)">1.32000</text>
<rect x="888.0" y="301.55" width="3.2" height="1" fill="#50545c"/>
<text x="0" y="0" font-size="14.5" fill="#50545c" stroke="#50545c" stroke-width="0.35" text-anchor="start" transform="translate(894.9 306.65000000000003) scale(0.574 1)">1.26000</text>
<rect x="888.0" y="356.10" width="3.2" height="1" fill="#50545c"/>
<text x="0" y="0" font-size="14.5" fill="#50545c" stroke="#50545c" stroke-width="0.35" text-anchor="start" transform="translate(894.9 361.2) scale(0.574 1)">1.24000</text>
<rect x="888.0" y="410.65" width="3.2" height="1" fill="#50545c"/>
<text x="0" y="0" font-size="14.5" fill="#50545c" stroke="#50545c" stroke-width="0.35" text-anchor="start" transform="translate(894.9 415.75) scale(0.574 1)">1.22000</text>
<rect x="888.0" y="465.20" width="3.2" height="1" fill="#50545c"/>
<text x="0" y="0" font-size="14.5" fill="#50545c" stroke="#50545c" stroke-width="0.35" text-anchor="start" transform="translate(894.9 470.3) scale(0.574 1)">1.20000</text>
<rect x="887.1" y="6.4" width="44.89999999999998" height="19.200000000000003" fill="#fde529"/>
<rect x="887.7" y="16.20" width="3.4" height="1.2" fill="#333"/>
<text x="0" y="0" font-size="14.5" fill="#1a1a1a" stroke="#1a1a1a" stroke-width="0.35" text-anchor="start" transform="translate(894.9 20.4) scale(0.574 1)">1.36447</text>
<rect x="888.7" y="443.3" width="43.299999999999955" height="19.30000000000001" fill="#244d10"/>
<rect x="887.7" y="452.35" width="3.4" height="1.2" fill="#fff"/>
<text x="0" y="0" font-size="14.5" fill="#fff" stroke="#fff" stroke-width="0.35" text-anchor="start" transform="translate(894.9 457.35) scale(0.574 1)">1.20438</text>
<rect x="888.7" y="372.5" width="43.299999999999955" height="19.19999999999999" fill="#32721a"/>
<rect x="889.1" y="372.9" width="45.299999999999955" height="18.399999999999988" fill="none" stroke="#275d12" stroke-width="0.8"/>
<rect x="887.7" y="381.50" width="3.4" height="1.2" fill="#fff"/>
<text x="0" y="0" font-size="14.5" fill="#fff" stroke="#fff" stroke-width="0.35" text-anchor="start" transform="translate(894.9 386.5) scale(0.574 1)">1.23053</text>
<rect x="888.7" y="243.7" width="43.299999999999955" height="18.19999999999999" fill="#32721a"/>
<rect x="889.1" y="244.1" width="45.299999999999955" height="17.399999999999988" fill="none" stroke="#275d12" stroke-width="0.8"/>
<rect x="887.7" y="252.20" width="3.4" height="1.2" fill="#fff"/>
<text x="0" y="0" font-size="14.5" fill="#fff" stroke="#fff" stroke-width="0.35" text-anchor="start" transform="translate(894.9 257.2) scale(0.574 1)">1.27781</text>
<rect x="888.7" y="201" width="43.299999999999955" height="18.5" fill="#32721a"/>
<rect x="889.1" y="201.4" width="45.299999999999955" height="17.7" fill="none" stroke="#275d12" stroke-width="0.8"/>
<rect x="887.7" y="209.65" width="3.4" height="1.2" fill="#fff"/>
<text x="0" y="0" font-size="14.5" fill="#fff" stroke="#fff" stroke-width="0.35" text-anchor="start" transform="translate(894.9 214.65) scale(0.574 1)">1.29733</text>
<rect x="887.1" y="181" width="44.89999999999998" height="18.80000000000001" fill="#ef5350"/>
<rect x="887.7" y="189.80" width="3.4" height="1.2" fill="#fff"/>
<text x="0" y="0" font-size="14.5" fill="#fff" stroke="#fff" stroke-width="0.35" text-anchor="start" transform="translate(894.9 194.8) scale(0.574 1)">1.30055</text>
<rect x="887.6" y="181" width="0.9" height="18.8" fill="#f7b3b1"/>
<rect x="846" y="181" width="41.1" height="18.8" fill="#ef5350"/>
<text x="0" y="0" font-size="14.5" fill="#fff" stroke="#fff" stroke-width="0.35" text-anchor="middle" transform="translate(867.5 195.3) scale(0.53 1)">GBPUSD</text>
</svg></body></html>
